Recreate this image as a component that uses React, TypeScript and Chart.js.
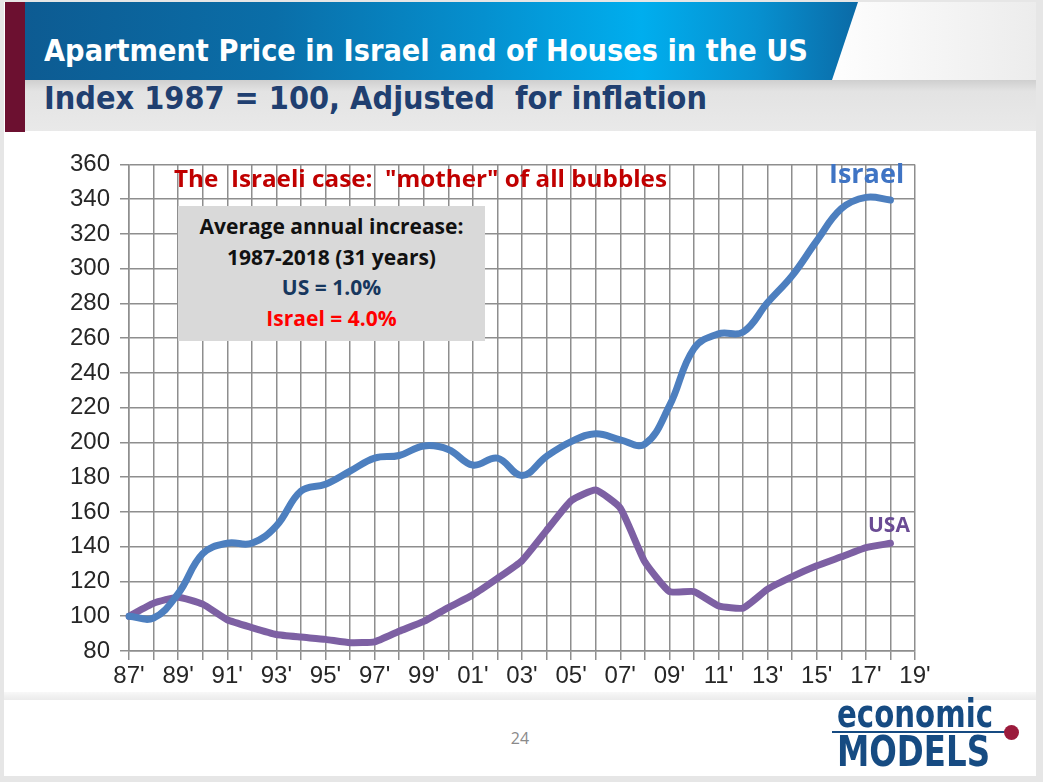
import React, { useEffect, useLayoutEffect, useRef } from "react";
import { Chart, registerables } from "chart.js";

Chart.register(...registerables);

const years = ["87'", "88'", "89'", "90'", "91'", "92'", "93'", "94'", "95'", "96'", "97'", "98'", "99'", "00'", "01'", "02'", "03'", "04'", "05'", "06'", "07'", "08'", "09'", "10'", "11'", "12'", "13'", "14'", "15'", "16'", "17'", "18'", "19'"];

const israel = [100, 99, 113, 136, 142, 142, 152, 172, 176, 183.5, 191, 192.5, 198, 196, 187, 191, 181, 192, 200.5, 205, 201.5, 199, 221, 254, 262.5, 263.5, 280.5, 296, 316, 334.5, 341, 339.5, null];

const usa = [100, 107.5, 111, 107, 98, 93.5, 89.5, 88, 86.7, 84.8, 85.3, 91.4, 97, 105, 112.3, 121.8, 132, 149.4, 166.5, 172.6, 162.3, 131.3, 114.2, 114.2, 106, 104.7, 115.6, 122.8, 129, 134.2, 139.5, 142, null];

const yMin = 80;
const yMax = 360;
const yStep = 20;

const GRID = "#8e8e8e";
const TICK_FONT = { family: '"Liberation Sans", Arial, sans-serif', size: 24 };
const NARROW = '"Liberation Sans Narrow", "DejaVu Sans Condensed", "DejaVu Sans", sans-serif';

function Fit({ width, style, children }: { width: number; style?: React.CSSProperties; children: React.ReactNode }) {
  const r = useRef<HTMLSpanElement | null>(null);
  useLayoutEffect(() => {
    const el = r.current;
    if (!el) return;
    el.style.transform = "none";
    const w = el.getBoundingClientRect().width;
    if (w > 0) el.style.transform = `scaleX(${width / w})`;
  });
  return (
    <span ref={r} style={{ display: "inline-block", whiteSpace: "pre", transformOrigin: "0 0", ...style }}>
      {children}
    </span>
  );
}

export default function App() {
  const ref = useRef<HTMLCanvasElement | null>(null);

  useEffect(() => {
    if (!ref.current) return;
    const chart = new Chart(ref.current, {
      type: "line",
      data: {
        labels: years,
        datasets: [
          {
            label: "Israel",
            data: israel,
            borderColor: "#4d7fbf",
            borderWidth: 7,
            tension: 0.4,
            pointRadius: 0,
            borderCapStyle: "round",
            borderJoinStyle: "round",
            fill: false,
          },
          {
            label: "USA",
            data: usa,
            borderColor: "#7d60a3",
            borderWidth: 7,
            tension: 0.15,
            pointRadius: 0,
            borderCapStyle: "round",
            borderJoinStyle: "round",
            fill: false,
          },
        ],
      },
      options: {
        animation: false,
        responsive: false,
        maintainAspectRatio: false,
        layout: { padding: { left: 0, right: 128, top: 20, bottom: 0 } },
        plugins: { legend: { display: false }, tooltip: { enabled: false } },
        scales: {
          x: {
            grid: { color: GRID, lineWidth: 1.5, tickLength: 9, drawTicks: true },
            border: { color: GRID, width: 1.5 },
            ticks: {
              autoSkip: false,
              maxRotation: 0,
              minRotation: 0,
              font: TICK_FONT,
              color: "#262626",
              padding: 2,
              callback: (_v: any, i: number) => (i % 2 === 0 ? years[i] : ""),
            },
            afterFit: (s: any) => {
              s.height = 49;
            },
          },
          y: {
            min: yMin,
            max: yMax,
            grid: { color: GRID, lineWidth: 1.5, tickLength: 9, drawTicks: true },
            border: { color: GRID, width: 1.5 },
            ticks: {
              stepSize: yStep,
              font: TICK_FONT,
              color: "#262626",
              padding: 10,
            },
            afterFit: (s: any) => {
              s.width = 129;
            },
          },
        },
      },
    });
    return () => chart.destroy();
  }, []);

  const abs = (s: React.CSSProperties): React.CSSProperties => ({ position: "absolute", ...s });

  return (
    <div style={abs({ left: 0, top: 0, width: 1043, height: 782, background: "#e6e6e6", overflow: "hidden" })}>
      <div style={abs({ left: 4, top: 2, width: 1032, height: 774, background: "#ffffff" })} />
      {/* top right fade */}
      <div style={abs({ left: 820, top: 2, width: 216, height: 78, background: "linear-gradient(to right, #ffffff, #ececec)" })} />
      {/* gray subtitle band */}
      <div
        style={abs({
          left: 25,
          top: 80,
          width: 1011,
          height: 51,
          background: "linear-gradient(to bottom, #cfcfcf 0%, #e3e3e3 22%, #e9e9e9 100%)",
        })}
      />
      {/* blue title band */}
      <div
        style={abs({
          left: 25,
          top: 2,
          width: 833,
          height: 78,
          clipPath: "polygon(0px 0px, 833px 0px, 807px 78px, 0px 78px)",
          background:
            "linear-gradient(to right, #0d5b92 0%, #0a6ea8 30%, #0590cf 55%, #00aeee 74%, #0790cf 88%, #0b6aa6 100%)",
        })}
      />
      {/* maroon bar */}
      <div style={abs({ left: 5, top: 2, width: 20, height: 130, background: "#6c1030" })} />
      <div style={abs({ left: 44, top: 31 })}>
        <Fit
          width={764}
          style={{ color: "#ffffff", fontFamily: NARROW, fontWeight: 700, fontSize: 31, lineHeight: "38px" }}
        >
          Apartment Price in Israel and of Houses in the US
        </Fit>
      </div>
      <div style={abs({ left: 44, top: 79 })}>
        <Fit
          width={663}
          style={{ color: "#203f70", fontFamily: NARROW, fontWeight: 700, fontSize: 32, lineHeight: "38px" }}
        >
          {"Index 1987 = 100, Adjusted  for inflation"}
        </Fit>
      </div>

      <canvas ref={ref} width={1043} height={560} style={abs({ left: 0, top: 140, width: 1043, height: 560 })} />

      {/* annotations */}
      <div style={abs({ left: 174, top: 162 })}>
        <Fit
          width={493}
          style={{ color: "#c00000", fontFamily: '"Open Sans", sans-serif', fontWeight: 700, fontSize: 24, lineHeight: "32px" }}
        >
          {'The  Israeli case:  "mother" of all bubbles'}
        </Fit>
      </div>
      <div
        style={abs({
          left: 178,
          top: 206,
          width: 307,
          height: 135,
          background: "#d9d9d9",
          fontFamily: '"Open Sans", sans-serif',
          fontWeight: 700,
          fontSize: 21,
          textAlign: "center",
          lineHeight: "30.7px",
          paddingTop: 5,
          boxSizing: "border-box",
        })}
      >
        <div style={{ color: "#111111" }}>Average annual increase:</div>
        <div style={{ color: "#111111" }}>1987-2018 (31 years)</div>
        <div style={{ color: "#17375e" }}>US = 1.0%</div>
        <div style={{ color: "#ff0000" }}>Israel = 4.0%</div>
      </div>
      <div
        style={abs({
          left: 829,
          top: 156,
          color: "#3f74c4",
          fontFamily: '"Open Sans", sans-serif',
          fontWeight: 700,
          fontSize: 27,
          lineHeight: "34px",
        })}
      >
        Israel
      </div>
      <div
        style={abs({
          left: 868,
          top: 510,
          color: "#6a4b94",
          fontFamily: '"Open Sans", sans-serif',
          fontWeight: 700,
          fontSize: 21,
          lineHeight: "28px",
        })}
      >
        USA
      </div>

      {/* footer */}
      <div style={abs({ left: 4, top: 692, width: 1032, height: 8, background: "linear-gradient(to bottom, #f8f8f8, #ebebeb)" })} />
      <div
        style={abs({
          left: 500,
          top: 727,
          width: 40,
          textAlign: "center",
          color: "#8a8a8a",
          fontFamily: '"Open Sans", sans-serif',
          fontSize: 16,
          lineHeight: "22px",
        })}
      >
        24
      </div>
      <div style={abs({ left: 837, top: 694 })}>
        <Fit width={156} style={{ color: "#164b82", fontFamily: NARROW, fontWeight: 700, fontSize: 39, lineHeight: "40px" }}>
          economic
        </Fit>
      </div>
      <div style={abs({ left: 832, top: 731, width: 174, height: 2, background: "#164b82" })} />
      <div style={abs({ left: 1003.5, top: 724.5, width: 15, height: 15, borderRadius: "50%", background: "#9b1b3c" })} />
      <div style={abs({ left: 837, top: 728 })}>
        <Fit width={153} style={{ color: "#164b82", fontFamily: NARROW, fontWeight: 700, fontSize: 42, lineHeight: "48px" }}>
          MODELS
        </Fit>
      </div>
    </div>
  );
}
